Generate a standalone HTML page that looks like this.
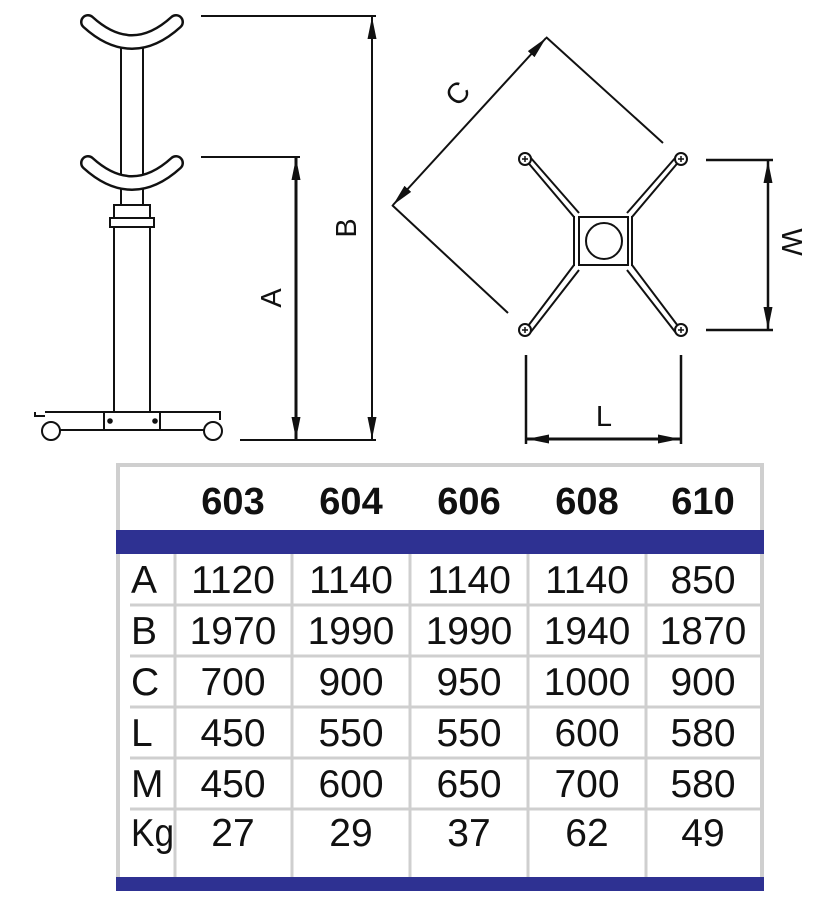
<!DOCTYPE html>
<html><head><meta charset="utf-8"><style>
html,body{margin:0;padding:0;background:#fff;}
svg{display:block;}
text{font-family:"Liberation Sans",sans-serif;fill:#111;}
</style></head><body>
<svg width="834" height="918" viewBox="0 0 834 918" xmlns="http://www.w3.org/2000/svg">
<defs>
<marker id="ahb" viewBox="0 0 10 10" refX="10" refY="5" markerWidth="22" markerHeight="10" markerUnits="userSpaceOnUse" orient="auto-start-reverse" preserveAspectRatio="none"><path d="M0,0.5 L10,5 L0,9.5 Z" fill="#111"/></marker>
</defs>
<g stroke="#111" fill="none" stroke-width="2">
<rect x="121" y="45" width="22" height="160" fill="#fff"/>
<rect x="114" y="205" width="36" height="13" fill="#fff"/>
<rect x="110" y="218" width="44" height="9" fill="#fff"/>
<rect x="114" y="227" width="36" height="185" fill="#fff"/>
<path d="M88,22 Q132,62 176,22" stroke-width="16" stroke-linecap="round"/>
<path d="M88,22 Q132,62 176,22" stroke-width="11" stroke="#fff" stroke-linecap="round"/>
<path d="M88,163 Q132,203 176,163" stroke-width="16" stroke-linecap="round"/>
<path d="M88,163 Q132,203 176,163" stroke-width="11" stroke="#fff" stroke-linecap="round"/>
<path d="M35,412 L35,416 L45,416 M45,412 L220,412 L220,420 M60,430 L205,430"/>
<rect x="104" y="412" width="56" height="18" fill="#fff"/>
<circle cx="110" cy="421" r="1.8" fill="#111"/><circle cx="155" cy="421" r="1.8" fill="#111"/>
<circle cx="51" cy="431" r="9" fill="#fff"/><circle cx="213" cy="431" r="9" fill="#fff"/>
<line x1="201" y1="16" x2="376" y2="16"/>
<line x1="201" y1="157" x2="300" y2="157"/>
<line x1="240" y1="440" x2="376" y2="440"/>
<line x1="372" y1="17" x2="372" y2="439" marker-start="url(#ahb)" marker-end="url(#ahb)"/>
<line x1="296" y1="158" x2="296" y2="439" stroke-width="3" marker-start="url(#ahb)" marker-end="url(#ahb)"/>
<line x1="546" y1="38" x2="393" y2="205" marker-start="url(#ahb)" marker-end="url(#ahb)"/>
<line x1="546" y1="37" x2="663" y2="143"/>
<line x1="392" y1="205" x2="508" y2="313"/>
<g stroke-width="2">
<path d="M525,159 L574,217 M530,157 L579,213"/>
<path d="M681,159 L632,217 M676,157 L627,213"/>
<path d="M525,330 L574,265 M530,333 L579,270"/>
<path d="M681,330 L632,265 M676,333 L627,270"/>
<path d="M574,216 L574,266 M632,216 L632,266"/>
<rect x="579" y="217" width="49" height="48" fill="#fff"/>
<circle cx="604" cy="241" r="18"/>
</g>
<g fill="#fff">
<circle cx="525" cy="159" r="6"/><circle cx="681" cy="159" r="6"/>
<circle cx="525" cy="330" r="6"/><circle cx="681" cy="330" r="6"/>
</g>
<path d="M522,159h6M525,156v6M678,159h6M681,156v6M522,330h6M525,327v6M678,330h6M681,327v6" stroke-width="1.5"/>
<line x1="706" y1="160" x2="773" y2="160" stroke-width="2.5"/>
<line x1="706" y1="330" x2="773" y2="330" stroke-width="2.5"/>
<line x1="768" y1="161" x2="768" y2="329" stroke-width="2.5" marker-start="url(#ahb)" marker-end="url(#ahb)"/>
<line x1="526" y1="355" x2="526" y2="444" stroke-width="2.5"/>
<line x1="681" y1="355" x2="681" y2="444" stroke-width="2.5"/>
<line x1="527" y1="439" x2="680" y2="439" stroke-width="3" marker-start="url(#ahb)" marker-end="url(#ahb)"/>
</g>
<text x="0" y="0" font-size="29" transform="translate(281,298) rotate(-90)" text-anchor="middle">A</text>
<text x="0" y="0" font-size="29" transform="translate(356,228) rotate(-90)" text-anchor="middle">B</text>
<text x="0" y="0" font-size="29" transform="translate(465,100) rotate(-48)" text-anchor="middle">C</text>
<text x="0" y="0" font-size="29" transform="translate(782,242) rotate(90)" text-anchor="middle">W</text>
<text x="604" y="426" font-size="29" text-anchor="middle">L</text>

<rect x="118" y="465" width="644" height="424" fill="#fff" stroke="#cfcfcf" stroke-width="4"/>
<rect x="116" y="530" width="648" height="24" fill="#2e3192"/>
<rect x="116" y="877" width="648" height="14" fill="#2e3192"/>
<g stroke="#cfcfcf" stroke-width="3">
<line x1="175" y1="554" x2="175" y2="877"/>
<line x1="292" y1="554" x2="292" y2="877"/>
<line x1="410" y1="554" x2="410" y2="877"/>
<line x1="528" y1="554" x2="528" y2="877"/>
<line x1="646" y1="554" x2="646" y2="877"/>
<line x1="130" y1="605" x2="762" y2="605"/>
<line x1="130" y1="656" x2="762" y2="656"/>
<line x1="130" y1="707" x2="762" y2="707"/>
<line x1="130" y1="758" x2="762" y2="758"/>
<line x1="130" y1="809" x2="762" y2="809"/>
</g>
<g font-size="38" font-weight="bold" text-anchor="middle">
<text x="233" y="514">603</text><text x="351" y="514">604</text><text x="469" y="514">606</text><text x="587" y="514">608</text><text x="703" y="514">610</text>
</g>
<g font-size="39" text-anchor="middle">
<text x="233" y="593">1120</text><text x="351" y="593">1140</text><text x="469" y="593">1140</text><text x="587" y="593">1140</text><text x="703" y="593">850</text>
<text x="233" y="644">1970</text><text x="351" y="644">1990</text><text x="469" y="644">1990</text><text x="587" y="644">1940</text><text x="703" y="644">1870</text>
<text x="233" y="695">700</text><text x="351" y="695">900</text><text x="469" y="695">950</text><text x="587" y="695">1000</text><text x="703" y="695">900</text>
<text x="233" y="746">450</text><text x="351" y="746">550</text><text x="469" y="746">550</text><text x="587" y="746">600</text><text x="703" y="746">580</text>
<text x="233" y="797">450</text><text x="351" y="797">600</text><text x="469" y="797">650</text><text x="587" y="797">700</text><text x="703" y="797">580</text>
<text x="233" y="846">27</text><text x="351" y="846">29</text><text x="469" y="846">37</text><text x="587" y="846">62</text><text x="703" y="846">49</text>
</g>
<g font-size="39">
<text x="131" y="593">A</text><text x="131" y="644">B</text><text x="131" y="695">C</text><text x="131" y="746">L</text><text x="131" y="797">M</text><text x="131" y="846" textLength="43" lengthAdjust="spacingAndGlyphs">Kg</text>
</g>
</svg>
</body></html>
